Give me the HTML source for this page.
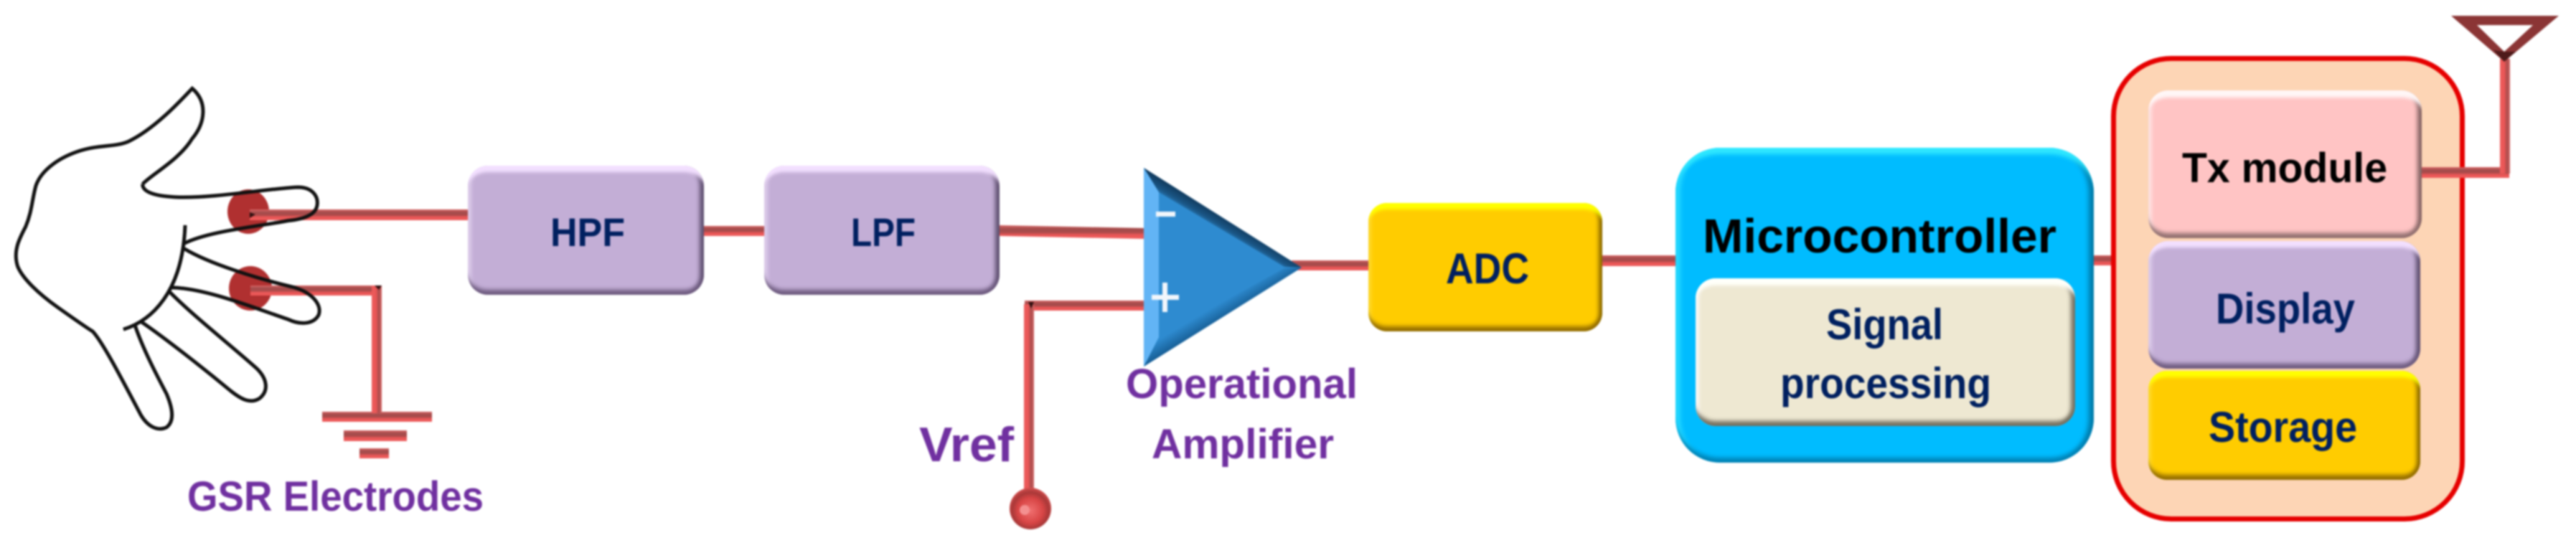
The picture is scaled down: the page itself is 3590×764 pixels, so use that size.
<!DOCTYPE html>
<html>
<head>
<meta charset="utf-8">
<style>
html,body{margin:0;padding:0;background:#fff;width:3590px;height:764px;overflow:hidden}
.stage{position:relative;width:3590px;height:764px;filter:blur(1.2px)}
svg{position:absolute;left:0;top:0}
.b{position:absolute;box-sizing:border-box}
.purple{background:#c3aed6;box-shadow:inset 0 17px 5px -8px #f3e0ff,inset 0 -11px 6px -4px #6f5c80,inset -10px 0 6px -4px #5f5070,inset 8px 0 6px -4px #e4d4f0}
.yellow{background:#ffcc00;box-shadow:inset 0 17px 5px -8px #ffff00,inset 0 -11px 6px -4px #966f00,inset -9px 0 6px -4px #8a6800,inset 7px 0 6px -4px #ffe040}
.cyan{background:#00bcff;box-shadow:inset 0 17px 6px -8px #30e8ff,inset 0 -11px 6px -4px #0084b8,inset -11px 0 7px -4px #007aa8,inset 11px 0 6px -4px #25d8ff}
.beige{background:#eee8d2;box-shadow:inset 0 18px 5px -8px #fffffa,inset 0 -11px 6px -4px #757060,inset -10px 0 6px -4px #757060,inset 8px 0 6px -4px #fff}
.pink{background:#ffc4c4;box-shadow:inset 0 18px 5px -8px #fff6f6,inset 0 -11px 6px -4px #927070,inset -10px 0 6px -4px #856464,inset 8px 0 6px -4px #ffeaea}
text{font-family:"Liberation Sans",sans-serif;font-weight:bold}
.n{fill:#002060}.k{fill:#000}.v{fill:#7030a0}
</style>
</head>
<body>
<div class="stage">
<svg width="3590" height="764" viewBox="0 0 3590 764">
<defs>
<linearGradient id="h" x1="0" y1="0" x2="0" y2="1">
<stop offset="0" stop-color="#d86565"/><stop offset=".3" stop-color="#a04a4a"/><stop offset=".55" stop-color="#b04c4c"/><stop offset=".7" stop-color="#ea5656"/><stop offset="1" stop-color="#ee5c5c"/>
</linearGradient>
<linearGradient id="v" x1="0" y1="0" x2="1" y2="0">
<stop offset="0" stop-color="#ee5c5c"/><stop offset=".45" stop-color="#e85656"/><stop offset=".7" stop-color="#a64c4c"/><stop offset="1" stop-color="#d86565"/>
</linearGradient>
</defs>
<!-- electrodes -->
<ellipse cx="346" cy="295" rx="29" ry="31" fill="#b03030"/>
<ellipse cx="349" cy="402" rx="30" ry="31" fill="#b03030"/>
<!-- wires -->
<g fill="url(#h)">
<rect x="348" y="292" width="304" height="15"/>
<rect x="349" y="398" width="183" height="14"/>
<rect x="981" y="315" width="84" height="14"/>
<polygon points="1393,314 1594,318 1594,333 1393,329"/>
<rect x="1428" y="419" width="166" height="14"/>
<rect x="1800" y="363" width="107" height="14"/>
<rect x="2233" y="356" width="102" height="15"/>
<rect x="2918" y="356" width="26" height="14"/>
<rect x="449" y="574" width="153" height="14"/>
<rect x="479" y="600" width="88" height="15"/>
<rect x="501" y="625" width="41" height="14"/>
</g>
<g fill="url(#v)">
<rect x="518" y="398" width="14" height="178"/>
<rect x="1427" y="424" width="14" height="262"/>
</g>
<path d="M348 296L356 299L348 304ZM522 398H532L528 404ZM1433 421H1441L1437 430Z" fill="#301010"/>
</svg>

<div class="b purple" style="left:652px;top:231px;width:329px;height:180px;border-radius:28px"></div>
<div class="b purple" style="left:1065px;top:231px;width:328px;height:180px;border-radius:28px"></div>
<div class="b yellow" style="left:1907px;top:283px;width:326px;height:179px;border-radius:26px"></div>
<div class="b cyan" style="left:2335px;top:206px;width:583px;height:439px;border-radius:62px"></div>
<div class="b beige" style="left:2363px;top:388px;width:529px;height:206px;border-radius:28px"></div>
<div class="b" style="left:2942px;top:78px;width:493px;height:649px;border-radius:84px;background:#fdd5b5;border:7px solid #e60000"></div>
<div class="b pink" style="left:2994px;top:126px;width:381px;height:206px;border-radius:28px"></div>
<div class="b purple" style="left:2994px;top:336px;width:379px;height:178px;border-radius:28px"></div>
<div class="b yellow" style="left:2994px;top:517px;width:379px;height:152px;border-radius:26px"></div>

<svg width="3590" height="764" viewBox="0 0 3590 764">
<defs>
<linearGradient id="h2" x1="0" y1="0" x2="0" y2="1">
<stop offset="0" stop-color="#d86565"/><stop offset=".3" stop-color="#a04a4a"/><stop offset=".55" stop-color="#b04c4c"/><stop offset=".7" stop-color="#ea5656"/><stop offset="1" stop-color="#ee5c5c"/>
</linearGradient>
<linearGradient id="v2" x1="0" y1="0" x2="1" y2="0">
<stop offset="0" stop-color="#ee5c5c"/><stop offset=".45" stop-color="#e85656"/><stop offset=".7" stop-color="#a64c4c"/><stop offset="1" stop-color="#d86565"/>
</linearGradient>
<radialGradient id="ball" cx=".5" cy=".55" r=".55">
<stop offset="0" stop-color="#f07070"/><stop offset=".55" stop-color="#d84545"/><stop offset=".8" stop-color="#a83838"/><stop offset="1" stop-color="#d85050"/>
</radialGradient>
<linearGradient id="opTop" gradientUnits="userSpaceOnUse" x1="1696" y1="296" x2="1684" y2="316">
<stop offset="0" stop-color="#10395c"/><stop offset=".55" stop-color="#1a5584"/><stop offset="1" stop-color="#2e8bd0"/>
</linearGradient>
<linearGradient id="opBot" gradientUnits="userSpaceOnUse" x1="1696" y1="452" x2="1684" y2="432">
<stop offset="0" stop-color="#14598f"/><stop offset="1" stop-color="#2e8bd0"/>
</linearGradient>
</defs>

<!-- antenna -->
<rect x="3375" y="233" width="122" height="15" fill="url(#h2)"/>
<rect x="3484" y="82" width="14" height="160" fill="url(#v2)"/>
<path fill-rule="evenodd" d="M3416 22H3566L3490 86ZM3452 35L3490 72L3530 35Z" fill="#8b3535"/>
<path d="M3475 70L3490 86L3506 72L3490 72Z" fill="#4e1a1a"/>

<!-- op amp -->
<polygon points="1594,234 1814,373 1594,511" fill="#2e8bd0"/>
<polygon points="1594,234 1814,373 1790,372 1615,268" fill="url(#opTop)"/>
<polygon points="1594,511 1615,470 1790,374 1814,373" fill="url(#opBot)"/>
<polygon points="1594,234 1615,268 1615,470 1594,511" fill="#62b4f5"/>
<rect x="1611" y="295" width="27" height="7" fill="#f2f6fb"/>
<rect x="1605" y="411" width="38" height="7" fill="#f2f6fb"/>
<rect x="1620" y="394" width="7" height="41" fill="#f2f6fb"/>

<!-- vref ball -->
<circle cx="1436" cy="709" r="29" fill="url(#ball)"/>
<circle cx="1428" cy="711" r="7" fill="#f49090"/>

<!-- hand -->
<g transform="translate(0,100) scale(.4464,.4237)" fill="none" stroke="#111" stroke-width="5">
<path vector-effect="non-scaling-stroke" d="M445 370C470 340 560 290 600 220C640 170 650 100 600 55C560 100 480 190 400 230C360 248 310 240 250 260C190 280 130 320 112 375C100 420 100 460 80 510C60 550 40 590 55 640C70 680 120 730 180 775C220 805 260 835 290 855C320 890 370 990 440 1130C460 1165 490 1185 520 1170C545 1150 540 1110 520 1060C490 1000 445 910 420 830"/>
<path vector-effect="non-scaling-stroke" d="M385 848C470 820 570 730 578 505"/>
<path vector-effect="non-scaling-stroke" d="M445 370C445 395 480 410 560 413C680 415 830 385 930 380C975 380 995 410 990 440C985 470 950 485 900 490C800 510 650 525 575 565"/>
<path vector-effect="non-scaling-stroke" d="M575 582C650 630 800 680 920 710C980 730 1005 770 995 800C980 830 940 835 900 815C800 780 640 710 530 710"/>
<path vector-effect="non-scaling-stroke" d="M530 725C600 800 720 900 800 975C835 1010 840 1050 810 1075C780 1095 750 1075 720 1050C640 980 520 880 440 822"/>
</g>

<!-- labels -->
<text class="n" x="767" y="343" font-size="56" textLength="104" lengthAdjust="spacingAndGlyphs">HPF</text>
<text class="n" x="1186" y="343" font-size="56" textLength="90" lengthAdjust="spacingAndGlyphs">LPF</text>
<text class="n" x="2015" y="395" font-size="60" textLength="116" lengthAdjust="spacingAndGlyphs">ADC</text>
<text class="k" x="2373" y="352" font-size="67" textLength="493" lengthAdjust="spacingAndGlyphs">Microcontroller</text>
<text class="n" x="2545" y="473" font-size="60" textLength="163" lengthAdjust="spacingAndGlyphs">Signal</text>
<text class="n" x="2481" y="555" font-size="60" textLength="294" lengthAdjust="spacingAndGlyphs">processing</text>
<text class="k" x="3041" y="254" font-size="58" textLength="286" lengthAdjust="spacingAndGlyphs">Tx module</text>
<text class="n" x="3088" y="451" font-size="60" textLength="194" lengthAdjust="spacingAndGlyphs">Display</text>
<text class="n" x="3078" y="616" font-size="60" textLength="207" lengthAdjust="spacingAndGlyphs">Storage</text>
<text class="v" x="261" y="712" font-size="58" textLength="413" lengthAdjust="spacingAndGlyphs">GSR Electrodes</text>
<text class="v" x="1281" y="643" font-size="68" textLength="132" lengthAdjust="spacingAndGlyphs">Vref</text>
<text class="v" x="1569" y="555" font-size="58" textLength="323" lengthAdjust="spacingAndGlyphs">Operational</text>
<text class="v" x="1605" y="639" font-size="58" textLength="254" lengthAdjust="spacingAndGlyphs">Amplifier</text>
</svg>
</div>
</body>
</html>
